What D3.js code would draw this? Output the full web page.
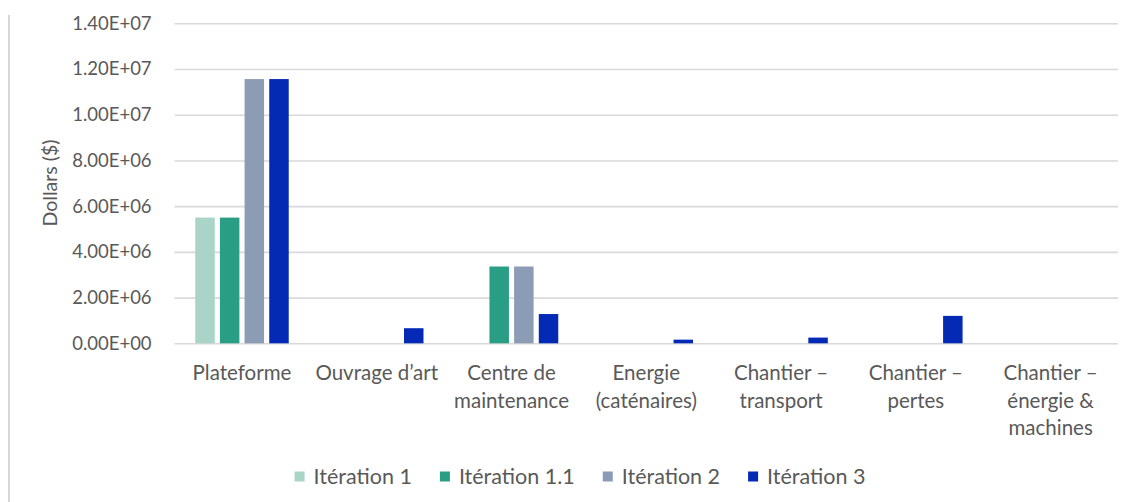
<!DOCTYPE html>
<html>
<head>
<meta charset="utf-8">
<script src="https://cdn.jsdelivr.net/npm/d3@7/dist/d3.min.js"></script>
<style>
  html, body { margin: 0; padding: 0; background: #ffffff; }
  svg { display: block; font-family: Lato, "Noto Sans", sans-serif; }
</style>
</head>
<body>
<svg id="chart" width="1130" height="502"></svg>
<script>
// Cost per project component, for each design iteration (dollars)
const categories = [
  ["Plateforme"],
  ["Ouvrage d’art"],
  ["Centre de", "maintenance"],
  ["Energie", "(caténaires)"],
  ["Chantier –", "transport"],
  ["Chantier –", "pertes"],
  ["Chantier –", "énergie &", "machines"]
];
const seriesNames = ["Itération 1", "Itération 1.1", "Itération 2", "Itération 3"];
const iteration1  = [5.50e6, 0, 0, 0, 0, 0, 0];
const iteration11 = [5.50e6, 0, 3.36e6, 0, 0, 0, 0];
const iteration2  = [11.56e6, 0, 3.36e6, 0, 0, 0, 0];
const iteration3  = [11.56e6, 0.66e6, 1.28e6, 0.16e6, 0.25e6, 1.20e6, 0];
const yTicks = [0, 2e6, 4e6, 6e6, 8e6, 1e7, 1.2e7, 1.4e7];
const yTitle = "Dollars ($)";

const seriesValues = [iteration1, iteration11, iteration2, iteration3];
const colors = ["#a9d4c7", "#2a9d85", "#8c9cb5", "#0429b4"];
const textColor = "#595959";
const gridColor = "#d9d9d9";

const svg = d3.select("#chart");
svg.append("rect").attr("width", 1130).attr("height", 502).attr("fill", "#ffffff");

// left frame edge
svg.append("line")
  .attr("x1", 9).attr("x2", 9).attr("y1", 15).attr("y2", 502)
  .attr("stroke", "#d6d6d6").attr("stroke-width", 2);

const catKeys = categories.map(c => c.join(" "));
const x0 = d3.scaleBand().domain(catKeys).range([174.6, 1118])
  .paddingInner(0.268).paddingOuter(0.134);
const x1 = d3.scaleBand().domain(seriesNames).range([0, x0.bandwidth()])
  .paddingInner(0.21).paddingOuter(0.105);
const y = d3.scaleLinear().domain([0, 1.4e7]).range([343.3, 23.3]);

// gridlines and tick labels
const yAxis = d3.axisLeft(y).tickValues(yTicks)
  .tickSize(-(1118 - 174.6)).tickPadding(23)
  .tickFormat(d => {
    const s = d.toExponential(2).toUpperCase();
    return s.replace(/E([+-])(\d)$/, "E$10$2");
  });
const gAxis = svg.append("g").attr("transform", "translate(174.6,0)").call(yAxis);
gAxis.select(".domain").remove();
gAxis.selectAll(".tick line").attr("stroke", gridColor).attr("stroke-width", 1.6);
gAxis.selectAll(".tick text")
  .attr("fill", textColor).attr("font-size", 18.5).attr("font-family", "Lato");

// bars
const groups = svg.append("g").selectAll("g")
  .data(catKeys).join("g")
  .attr("transform", d => `translate(${x0(d)},0)`);
groups.selectAll("rect")
  .data((d, ci) => seriesNames.map((s, si) => ({ s, v: seriesValues[si][ci], si })))
  .join("rect")
  .filter(d => d.v > 0)
  .attr("x", d => x1(d.s))
  .attr("width", x1.bandwidth())
  .attr("y", d => y(d.v))
  .attr("height", d => y(0) - y(d.v))
  .attr("fill", d => colors[d.si]);

// category labels
const labels = svg.append("g").selectAll("text")
  .data(categories).join("text")
  .attr("x", (d, i) => x0(catKeys[i]) + x0.bandwidth() / 2)
  .attr("y", 380)
  .attr("text-anchor", "middle")
  .attr("fill", textColor)
  .attr("font-size", 20.5);
labels.selectAll("tspan")
  .data(d => d).join("tspan")
  .attr("x", function () { return d3.select(this.parentNode).attr("x"); })
  .attr("dy", (d, i) => i === 0 ? 0 : 27.5)
  .text(d => d);

// y axis title
svg.append("text")
  .attr("transform", "translate(57,183) rotate(-90)")
  .attr("text-anchor", "middle")
  .attr("fill", textColor)
  .attr("font-size", 19.5)
  .text(yTitle);

// legend
const legend = svg.append("g");
const items = legend.selectAll("g").data(seriesNames).join("g");
items.append("rect")
  .attr("width", 10).attr("height", 10)
  .attr("y", 471.5)
  .attr("fill", (d, i) => colors[i]);
items.append("text")
  .attr("x", 19).attr("y", 484)
  .attr("fill", textColor)
  .attr("font-size", 21.5)
  .text(d => d);
const widths = [];
items.each(function () { widths.push(19 + d3.select(this).select("text").node().getComputedTextLength()); });
const gap = 28;
const total = d3.sum(widths) + gap * (widths.length - 1);
let cursor = 580 - total / 2;
items.attr("transform", (d, i) => {
  const t = `translate(${cursor},0)`;
  cursor += widths[i] + gap;
  return t;
});
</script>
</body>
</html>
